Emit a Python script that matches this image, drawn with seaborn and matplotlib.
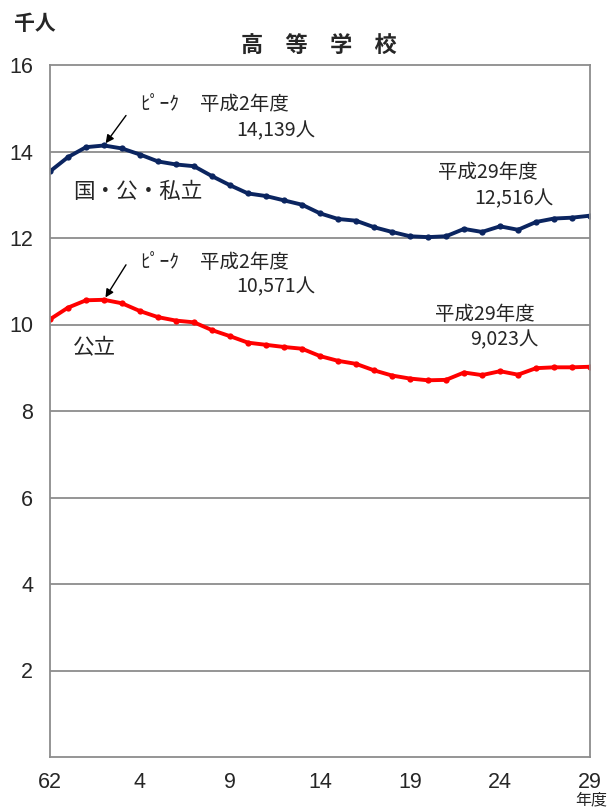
import matplotlib
matplotlib.use("Agg")
import matplotlib.pyplot as plt
import seaborn as sns
import numpy as np
import pandas as pd

# ---- data ----
years = ["62", "63", "元", "2", "3", "4", "5", "6", "7", "8", "9", "10", "11", "12", "13",
         "14", "15", "16", "17", "18", "19", "20", "21", "22", "23", "24", "25", "26", "27", "28", "29"]
total = [13.54, 13.87, 14.10, 14.139, 14.07, 13.93, 13.77, 13.70, 13.66, 13.43, 13.22,
         13.03, 12.97, 12.87, 12.77, 12.57, 12.44, 12.40, 12.25, 12.14, 12.04, 12.02,
         12.04, 12.21, 12.14, 12.27, 12.19, 12.37, 12.45, 12.47, 12.516]
public = [10.12, 10.39, 10.56, 10.571, 10.49, 10.31, 10.17, 10.09, 10.05, 9.87, 9.73,
          9.58, 9.53, 9.48, 9.44, 9.27, 9.16, 9.09, 8.94, 8.82, 8.75, 8.71,
          8.72, 8.89, 8.83, 8.92, 8.84, 8.99, 9.01, 9.01, 9.023]
xtick_idx = [0, 5, 10, 15, 20, 25, 30]
xtick_labels = ["62", "4", "9", "14", "19", "24", "29"]
ytick_vals = [2, 4, 6, 8, 10, 12, 14, 16]

sns.set_style("white")
JP = ["Noto Sans CJK JP", "DejaVu Sans"]
NUM = ["Liberation Sans", "DejaVu Sans"]
plt.rcParams["font.family"] = JP

W, H = 611, 810
fig = plt.figure(figsize=(W / 100, H / 100), dpi=100)
ax = fig.add_axes([50 / W, 1 - 757 / H, 540 / W, 692 / H])

idx = np.arange(len(years))
df = pd.DataFrame({"idx": idx, "total": total, "public": public})

navy = "#0B2560"
red = "#FF0000"
sns.lineplot(data=df, x="idx", y="total", ax=ax, color=navy, lw=2.8,
             marker="o", markersize=4.5, markeredgewidth=0, legend=False)
sns.lineplot(data=df, x="idx", y="public", ax=ax, color=red, lw=2.8,
             marker="o", markersize=4.5, markeredgewidth=0, legend=False)

ax.set_xlim(0, 30)
ax.set_ylim(0, 16)
ax.set_xlabel("")
ax.set_ylabel("")
gray = "#8C8C8C"
for y in [2, 4, 6, 8, 10, 12, 14]:
    ax.axhline(y, color=gray, lw=1.3, zorder=0)
for s in ax.spines.values():
    s.set_color(gray)
    s.set_linewidth(1.3)

ax.set_xticks(idx, minor=True)
ax.set_xticks(xtick_idx)
ax.set_xticklabels(xtick_labels, fontfamily=NUM, fontsize=15.5)
ax.tick_params(axis="x", which="both", direction="in", length=5, color=gray, width=1, pad=11)
ax.set_yticks(ytick_vals)
ax.set_yticklabels([str(v) for v in ytick_vals], fontfamily=NUM, fontsize=15.5)
ax.tick_params(axis="y", which="both", length=0, pad=12)

def fx(px):
    return px / W

def fy(py):
    return 1 - py / H

fig.text(fx(14), fy(24), "千人", fontsize=15, fontweight="bold", va="center", ha="left")
fig.text(fx(319), fy(45), "高　等　学　校", fontsize=16, fontweight="bold", va="center", ha="center")
fig.text(fx(591), fy(800), "年度", fontsize=11.5, va="center", ha="center")

# annotations
fs = 14
fig.text(fx(140), fy(105), "ﾋﾟｰｸ", fontsize=fs, va="center", ha="left")
fig.text(fx(200), fy(105), "平成2年度", fontsize=fs, va="center", ha="left")
fig.text(fx(236), fy(131), "14,139人", fontsize=fs, va="center", ha="left")
fig.text(fx(438), fy(173), "平成29年度", fontsize=fs, va="center", ha="left")
fig.text(fx(474), fy(199), "12,516人", fontsize=fs, va="center", ha="left")
fig.text(fx(73), fy(192), "国・公・私立", fontsize=15.5, va="center", ha="left")

fig.text(fx(140), fy(263), "ﾋﾟｰｸ", fontsize=fs, va="center", ha="left")
fig.text(fx(200), fy(263), "平成2年度", fontsize=fs, va="center", ha="left")
fig.text(fx(236), fy(287), "10,571人", fontsize=fs, va="center", ha="left")
fig.text(fx(435), fy(314), "平成29年度", fontsize=fs, va="center", ha="left")
fig.text(fx(470), fy(340), "9,023人", fontsize=fs, va="center", ha="left")
fig.text(fx(73), fy(348), "公立", fontsize=15.5, va="center", ha="left")

ax.annotate("", xy=(3, total[3]), xytext=(22, 30), textcoords="offset pixels",
            arrowprops=dict(arrowstyle="-|>", color="black", lw=1.0, mutation_scale=12,
                            shrinkA=0, shrinkB=2))
ax.annotate("", xy=(3, public[3]), xytext=(22, 35), textcoords="offset pixels",
            arrowprops=dict(arrowstyle="-|>", color="black", lw=1.0, mutation_scale=12,
                            shrinkA=0, shrinkB=2))

fig.savefig("out.png", dpi=100)
